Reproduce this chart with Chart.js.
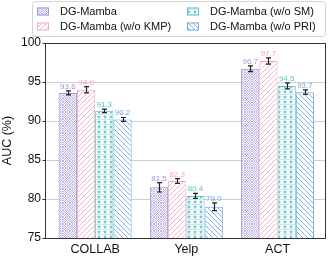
<!DOCTYPE html>
<html>
<head>
<meta charset="utf-8">
<script src="https://cdn.jsdelivr.net/npm/chart.js@4.4.0/dist/chart.umd.min.js"></script>
<style>
html,body{margin:0;padding:0;background:#fff}
#wrap{width:328px;height:259px;position:relative}
</style>
</head>
<body>
<div id="wrap"><canvas id="c" width="328" height="259"></canvas></div>
<script>
// ===== DATA =====
const CATEGORIES=['COLLAB','Yelp','ACT'];
const SERIES=['DG-Mamba','DG-Mamba (w/o KMP)','DG-Mamba (w/o SM)','DG-Mamba (w/o PRI)'];
const VAL_FULL=[93.6,81.5,96.7];
const VAL_KMP=[94.0,82.3,97.7];
const VAL_SM=[91.3,80.4,94.5];
const VAL_PRI=[90.2,79.0,93.7];
const ERR_FULL=[0.26,0.6,0.36];
const ERR_KMP=[0.4,0.3,0.4];
const ERR_SM=[0.23,0.32,0.38];
const ERR_PRI=[0.25,0.5,0.28];
const Y_TICKS=[75,80,85,90,95,100];

const COLORS=['#a197d8','#f4a9c3','#62c3c7','#72aae6'];
const FONT='"Liberation Sans", Arial, sans-serif';

// ===== PATTERNS =====
function tile(w,h,fn){const c=document.createElement('canvas');c.width=w;c.height=h;const g=c.getContext('2d');g.fillStyle='#fff';g.fillRect(0,0,w,h);fn(g);return document.getElementById('c').getContext('2d').createPattern(c,'repeat');}
function diag(g,col,s,dir,lw){
  g.strokeStyle=col;g.lineWidth=lw||0.8;
  for(let k=-1;k<=1;k++){g.beginPath();
    if(dir>0){g.moveTo(k*s,s);g.lineTo(k*s+s,0);}else{g.moveTo(k*s,0);g.lineTo(k*s+s,s);}
    g.stroke();}
}
function star(g,cx,cy,r){g.beginPath();for(let i=0;i<10;i++){const a=-Math.PI/2+i*Math.PI/5,rr=i%2?r*0.45:r;g.lineTo(cx+rr*Math.cos(a),cy+rr*Math.sin(a));}g.closePath();g.fill();}
function ring(g,x,y){g.beginPath();g.arc(x,y,1.2,0,7);g.stroke();}
const PATTERNS=[
  tile(7,7,g=>{diag(g,COLORS[0],7,1,0.7);diag(g,COLORS[0],7,-1,0.7);g.lineWidth=0.7;ring(g,3.5,0);ring(g,3.5,7);ring(g,0,3.5);ring(g,7,3.5);}),
  tile(5,5,g=>diag(g,COLORS[1],5,1,0.9)),
  tile(6,5,g=>{g.fillStyle=COLORS[2];g.globalAlpha=0.35;g.fillRect(0,4,6,1);g.globalAlpha=0.95;star(g,3,2,2.3);}),
  tile(5,5,g=>diag(g,COLORS[3],5,-1,0.9))
];

const VALUES=[VAL_FULL,VAL_KMP,VAL_SM,VAL_PRI];
const ERRORS=[ERR_FULL,ERR_KMP,ERR_SM,ERR_PRI];

const datasets=SERIES.map((s,i)=>({
  label:s,
  data:VALUES[i].map((v,j)=>({x:j,y:v})),
  backgroundColor:PATTERNS[i],borderColor:COLORS[i],borderWidth:1,
  categoryPercentage:0.8,barPercentage:1.0
}));

// ===== PLUGINS =====
const errorBars={id:'errorBars',afterDatasetsDraw(chart){
  const ctx=chart.ctx,y=chart.scales.y;
  ctx.save();
  chart.data.datasets.forEach((ds,i)=>{
    const meta=chart.getDatasetMeta(i);
    meta.data.forEach((bar,j)=>{
      const v=VALUES[i][j],e=ERRORS[i][j];
      const x=Math.round(bar.x)+0.5,top=y.getPixelForValue(v+e),bot=y.getPixelForValue(v-e);
      ctx.strokeStyle='#222';ctx.lineWidth=1.2;
      ctx.beginPath();ctx.moveTo(x,top);ctx.lineTo(x,bot);
      ctx.moveTo(x-2.5,top);ctx.lineTo(x+2.5,top);
      ctx.moveTo(x-2.5,bot);ctx.lineTo(x+2.5,bot);ctx.stroke();
      ctx.fillStyle=COLORS[i];ctx.font='8px '+FONT;ctx.textAlign='center';ctx.textBaseline='alphabetic';
      ctx.fillText(v.toFixed(1),bar.x,top-2);
    });
  });
  ctx.restore();
}};

const frame={id:'frame',afterDraw(chart){
  const a=chart.chartArea,ctx=chart.ctx,y=chart.scales.y;
  ctx.save();ctx.strokeStyle='#333';ctx.lineWidth=1;
  const l=Math.round(a.left)+0.5;
  ctx.strokeRect(l,Math.round(a.top)+0.5,Math.round(a.right-a.left),Math.round(a.bottom-a.top));
  ctx.beginPath();
  Y_TICKS.forEach(v=>{const py=Math.round(y.getPixelForValue(v))+0.5;ctx.moveTo(l-3,py);ctx.lineTo(l,py);});
  ctx.stroke();
  ctx.restore();
}};

const legendBox={id:'legendBox',afterDraw(chart){
  const ctx=chart.ctx;
  ctx.save();
  ctx.fillStyle='rgba(255,255,255,0.9)';ctx.strokeStyle='#d4d4d4';ctx.lineWidth=1;
  ctx.beginPath();ctx.roundRect(32.5,1.5,293,35,3);ctx.fill();ctx.stroke();
  const pos=[[37,60,11.5],[37,60,26.5],[187,210,11.5],[187,210,26.5]];
  SERIES.forEach((s,i)=>{
    const [sx,tx,cy]=pos[i];
    ctx.fillStyle=PATTERNS[i];ctx.fillRect(sx,cy-4,12,8);
    ctx.strokeStyle=COLORS[i];ctx.strokeRect(sx+0.5,cy-3.5,11,7);
    ctx.fillStyle='#111';ctx.font='11px '+FONT;ctx.textAlign='left';ctx.textBaseline='middle';
    ctx.fillText(s,tx,cy+0.5);
  });
  ctx.restore();
}};

new Chart(document.getElementById('c'),{
  type:'bar',
  data:{datasets},
  plugins:[errorBars,frame,legendBox],
  options:{
    responsive:false,animation:false,
    layout:{padding:{top:43,right:3,left:0,bottom:0}},
    plugins:{legend:{display:false},tooltip:{enabled:false}},
    scales:{
      x:{type:'linear',min:-0.55,max:2.52,offset:false,
        afterBuildTicks:s=>{s.ticks=CATEGORIES.map((c,i)=>({value:i}));},
        afterFit:s=>{s.height=21;},
        ticks:{callback:v=>CATEGORIES[v],color:'#111',font:{family:FONT,size:12.5},padding:4,maxRotation:0},
        grid:{display:false,drawTicks:true,tickLength:0},border:{display:false}},
      y:{min:75,max:100,
        afterBuildTicks:s=>{s.ticks=Y_TICKS.map(v=>({value:v}));},
        afterFit:s=>{s.width=45;},
        title:{display:true,text:'AUC (%)',color:'#111',font:{family:FONT,size:12.5},padding:{top:0,bottom:0}},
        ticks:{color:'#111',font:{family:FONT,size:12},padding:4},
        grid:{color:ctx=>ctx.tick&&(ctx.tick.value===75||ctx.tick.value===100)?'rgba(0,0,0,0)':'#cfcfcf',lineWidth:1,drawTicks:false,tickLength:0},
        border:{display:false}}
    }
  }
});
</script>
</body>
</html>
